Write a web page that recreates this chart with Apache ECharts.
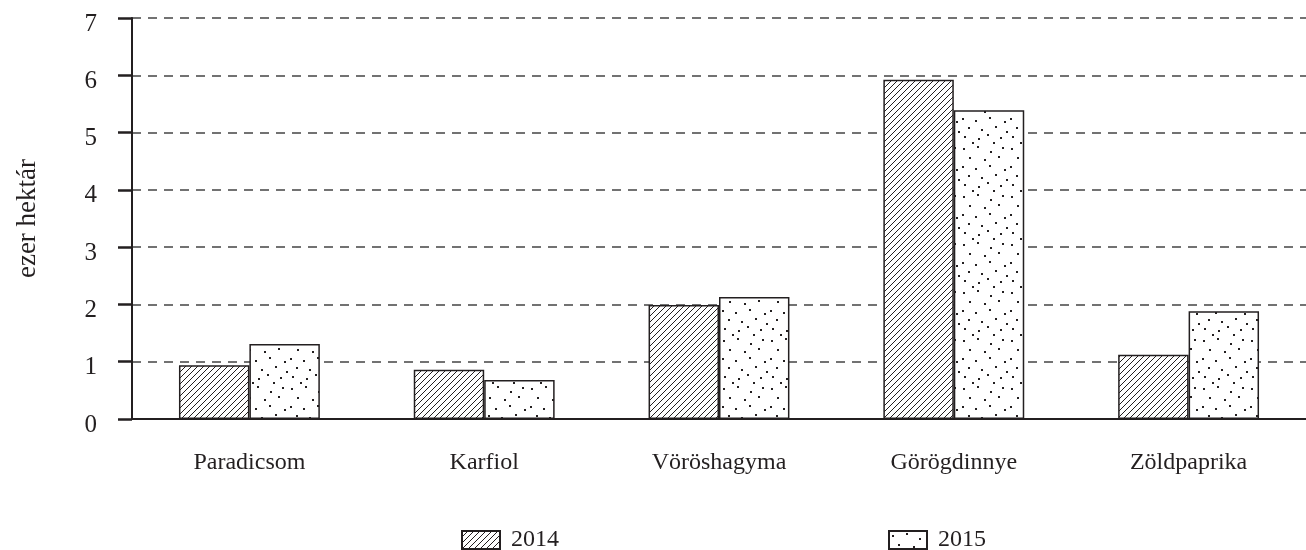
<!DOCTYPE html>
<html>
<head>
<meta charset="utf-8">
<script src="https://cdn.jsdelivr.net/npm/echarts@6/dist/echarts.min.js"></script>
<style>
  html, body { margin: 0; padding: 0; background: #fff; }
  #chart { width: 1306px; height: 550px; }
</style>
</head>
<body>
<div id="chart"></div>
<script>
const categories = ['Paradicsom', 'Karfiol', 'Vöröshagyma', 'Görögdinnye', 'Zöldpaprika']
const values2014 = [0.94, 0.86, 1.99, 5.92, 1.12]
const values2015 = [1.31, 0.68, 2.13, 5.39, 1.88]
const yTicks = [0, 1, 2, 3, 4, 5, 6, 7]

const ink = '#231f20'
const font = 'Liberation Serif'

// ferde vonalkázás (2014)
function hatchPattern () {
  const c = document.createElement('canvas')
  c.width = 6
  c.height = 6
  const ctx = c.getContext('2d')
  ctx.fillStyle = '#fff'
  ctx.fillRect(0, 0, 6, 6)
  ctx.strokeStyle = ink
  ctx.lineWidth = 1
  ctx.beginPath()
  ctx.moveTo(-1, 7); ctx.lineTo(7, -1)
  ctx.moveTo(-1, 1); ctx.lineTo(1, -1)
  ctx.moveTo(5, 7); ctx.lineTo(7, 5)
  ctx.stroke()
  return c
}

// pontozás (2015)
function dotPattern () {
  const c = document.createElement('canvas')
  c.width = 48
  c.height = 48
  const ctx = c.getContext('2d')
  ctx.fillStyle = '#fff'
  ctx.fillRect(0, 0, 48, 48)
  ctx.fillStyle = ink
  const dots = [[3, 4], [17, 2], [30, 7], [42, 3], [9, 13], [24, 15], [38, 12],
    [2, 22], [15, 24], [29, 21], [44, 25], [8, 31], [21, 33], [35, 30],
    [4, 40], [18, 42], [27, 38], [40, 41], [12, 46], [33, 46], [46, 35]]
  dots.forEach(([x, y]) => ctx.fillRect(x, y, 2, 2))
  return c
}

const legendBase = {
  top: 528,
  padding: 0,
  icon: 'rect',
  itemWidth: 38,
  itemHeight: 18,
  textStyle: { fontFamily: font, fontSize: 24, color: ink, padding: [2, 0, 0, 6] }
}

const chart = echarts.init(document.getElementById('chart'))
chart.setOption({
  animation: false,
  backgroundColor: '#fff',
  textStyle: { fontFamily: font, color: ink },
  grid: { left: 132, top: 18, width: 1184, height: 401 },
  legend: [
    Object.assign({ data: ['2014'], left: 461 }, legendBase),
    Object.assign({ data: ['2015'], left: 888 }, legendBase)
  ],
  xAxis: {
    type: 'category',
    data: categories,
    axisLine: { lineStyle: { color: ink, width: 2 } },
    axisTick: { length: 14, lineStyle: { color: ink, width: 2 } },
    axisLabel: { margin: 32, fontSize: 24, fontFamily: font, color: ink }
  },
  yAxis: {
    type: 'value',
    min: yTicks[0],
    max: yTicks[yTicks.length - 1],
    interval: 1,
    name: 'ezer hektár',
    nameLocation: 'middle',
    nameGap: 91,
    nameTextStyle: { fontSize: 27, fontFamily: font, color: ink },
    axisLine: { show: true, lineStyle: { color: ink, width: 2 } },
    axisTick: { show: true, length: 14, lineStyle: { color: ink, width: 2.5 } },
    axisLabel: {
      margin: 35, fontSize: 25, fontFamily: font, color: ink,
      verticalAlign: 'top', lineHeight: 12
    },
    splitLine: { lineStyle: { color: '#444', width: 1.5, type: [9, 7] } }
  },
  series: [
    {
      name: '2014',
      type: 'bar',
      data: values2014,
      barGap: '0%',
      barCategoryGap: '40%',
      itemStyle: {
        color: { image: hatchPattern(), repeat: 'repeat' },
        borderColor: ink,
        borderWidth: 1.5
      }
    },
    {
      name: '2015',
      type: 'bar',
      data: values2015,
      itemStyle: {
        color: { image: dotPattern(), repeat: 'repeat' },
        borderColor: ink,
        borderWidth: 1.5
      }
    }
  ]
})
</script>
</body>
</html>
